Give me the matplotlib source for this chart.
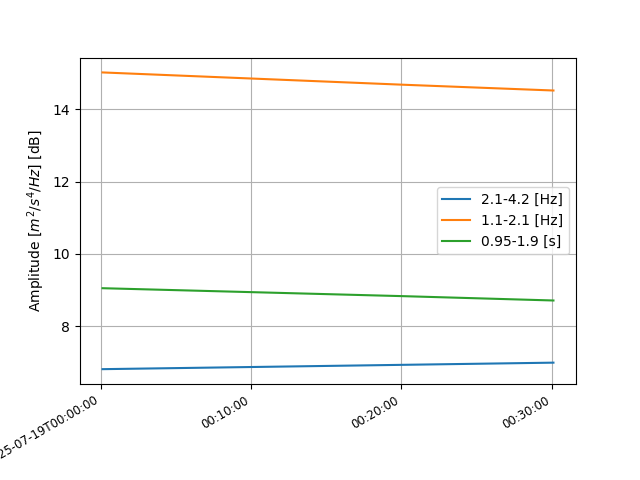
import numpy as np
import pandas as pd
import matplotlib
matplotlib.use('Agg')
import matplotlib.pyplot as plt
import matplotlib.dates as mdates

times = pd.to_datetime(['2025-07-19 00:00:07', '2025-07-19 00:10:07',
                        '2025-07-19 00:20:07', '2025-07-19 00:30:07'])
band_hi = [6.81, 6.87, 6.93, 6.99]       # 2.1-4.2 Hz
band_mid = [15.02, 14.85, 14.68, 14.52]  # 1.1-2.1 Hz
band_per = [9.05, 8.94, 8.83, 8.71]      # 0.95-1.9 s
labels = ['2.1-4.2 [Hz]', '1.1-2.1 [Hz]', '0.95-1.9 [s]']

fig, ax = plt.subplots(figsize=(6.4, 4.8), dpi=100)
for vals, lab in zip([band_hi, band_mid, band_per], labels):
    ax.plot(times, vals, label=lab)


def fmt(x, pos):
    d = mdates.num2date(x)
    if pos == 0:
        return d.strftime('%Y-%m-%dT%H:%M:%S')
    return d.strftime('%H:%M:%S')


ax.xaxis.set_major_locator(mdates.MinuteLocator(byminute=[0, 10, 20, 30]))
ax.xaxis.set_major_formatter(plt.FuncFormatter(fmt))
ax.set_ylabel('Amplitude [$m^2/s^4/Hz$] [dB]')
ax.grid(True)
ax.legend()
fig.autofmt_xdate()
for t in ax.get_xticklabels():
    t.set_fontsize(8.5)
fig.savefig('out.png')
